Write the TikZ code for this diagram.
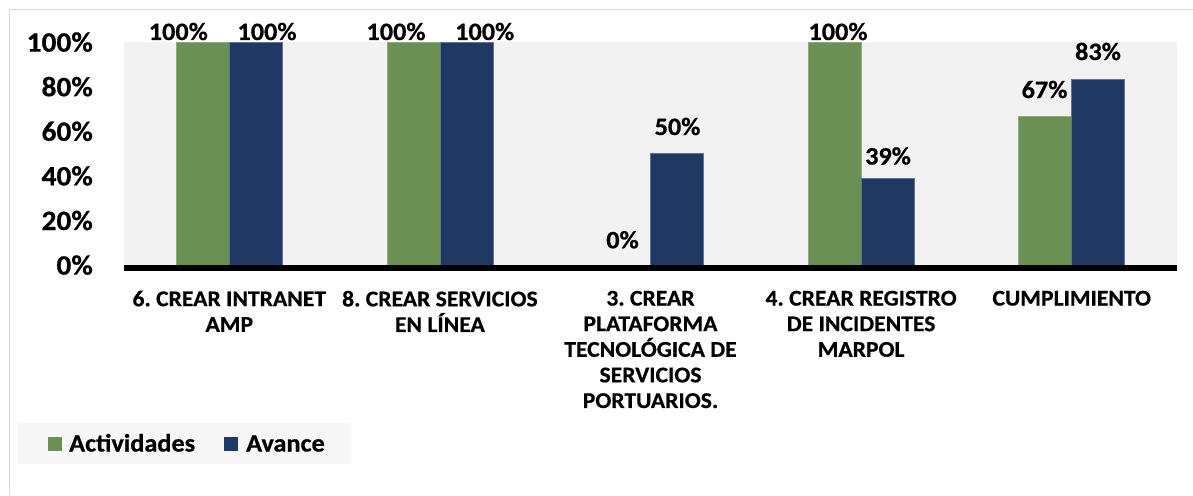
\documentclass[tikz,border=0pt]{standalone}
\usepackage{fontspec}
\setmainfont{Carlito}[FakeStretch=1.05, BoldFeatures={FakeBold=0.6}]
\frenchspacing
\definecolor{actgreen}{HTML}{6A9153}
\definecolor{avblue}{HTML}{203864}
\definecolor{plotbg}{HTML}{F2F2F2}
\definecolor{legbg}{HTML}{F7F7F7}
\definecolor{framegray}{HTML}{D9D9D9}
\tikzset{
  valuelabel/.style={font=\bfseries\frenchspacing\fontsize{25}{29}\selectfont, inner sep=0pt, anchor=base},
  ylabel/.style={font=\bfseries\fontsize{28}{32}\selectfont, inner sep=0pt, anchor=base east},
  catlabel/.style={font=\bfseries\frenchspacing\fontsize{22.5}{25.6}\selectfont, inner sep=0pt, anchor=north, align=center},
  legtext/.style={font=\bfseries\fontsize{25}{29}\selectfont, inner sep=0pt, anchor=base west},
  greenbar/.style={fill=actgreen, draw=actgreen!75!white, line width=0.8pt},
  bluebar/.style={fill=avblue, draw=avblue!70!white, line width=0.8pt},
}
\begin{document}
\begin{tikzpicture}[x=1pt,y=-1pt]
\useasboundingbox (0,0) rectangle (1193,495);
\fill[white] (0,0) rectangle (1193,495);
% frame
\draw[framegray, line width=1pt] (9,495) -- (9,10) -- (1193,10);
% plot area
\fill[plotbg] (124,42) rectangle (1177,265);
% bars
\draw[greenbar] (176.3,265) rectangle (229.3,42);
\draw[bluebar] (229.3,265) rectangle (282.3,42);
\draw[greenbar] (386.9,265) rectangle (439.9,42);
\draw[bluebar] (439.9,265) rectangle (492.9,42);
\draw[bluebar] (650.5,265) rectangle (703.5,153.5);
\draw[greenbar] (808.1,265) rectangle (861.1,42);
\draw[bluebar] (861.1,265) rectangle (914.1,178.0);
\draw[greenbar] (1018.7,265) rectangle (1071.7,116.3);
\draw[bluebar] (1071.7,265) rectangle (1124.7,79.2);
% axis
\draw[black, line width=5.5pt] (124,267.75) -- (1177,267.75);
% y labels
\node[ylabel] (y100) at (93,51.6) {100\%};
\node[ylabel] (y80) at (93,96.2) {80\%};
\node[ylabel] (y60) at (93,140.8) {60\%};
\node[ylabel] (y40) at (93,185.4) {40\%};
\node[ylabel] (y20) at (93,230.0) {20\%};
\node[ylabel] (y0) at (93,274.6) {0\%};
% value labels
\node[valuelabel] (v1a) at (178.3,40) {100\%};
\node[valuelabel] (v1b) at (267,40) {100\%};
\node[valuelabel] (v2a) at (396,40) {100\%};
\node[valuelabel] (v2b) at (484.7,40) {100\%};
\node[valuelabel] (v3a) at (622.5,248.3) {0\%};
\node[valuelabel] (v3b) at (677.5,135) {50\%};
\node[valuelabel] (v4a) at (838,40) {100\%};
\node[valuelabel] (v4b) at (888,164.5) {39\%};
\node[valuelabel] (v5a) at (1044.5,98) {67\%};
\node[valuelabel] (v5b) at (1098,60) {83\%};
% category labels
\node[catlabel] (c1) at (229.3,290.6) {6. CREAR INTRANET\\AMP};
\node[catlabel] (c2) at (439.9,290.6) {8. CREAR SERVICIOS\\EN LÍNEA};
\node[catlabel] (c3) at (650.5,290.6) {3. CREAR\\PLATAFORMA\\TECNOLÓGICA DE\\SERVICIOS\\PORTUARIOS.};
\node[catlabel] (c4) at (861.1,290.6) {4. CREAR REGISTRO\\DE INCIDENTES\\MARPOL};
\node[catlabel] (c5) at (1071.7,290.6) {CUMPLIMIENTO};
% legend
\fill[legbg] (18,423) rectangle (350.7,464);
\fill[actgreen] (47.7,437) rectangle (61.7,451);
\fill[avblue] (224.3,437) rectangle (238.3,451);
\node[legtext] (l1) at (69,451.5) {Actividades};
\node[legtext] (l2) at (246,451.5) {Avance};
\end{tikzpicture}
\end{document}
